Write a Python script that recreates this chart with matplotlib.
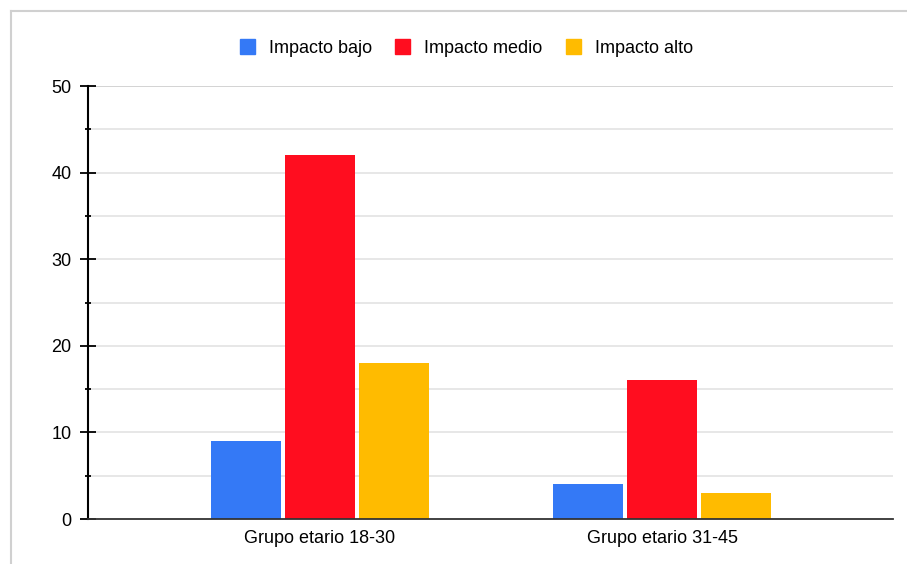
import matplotlib.pyplot as plt
import numpy as np
from matplotlib.lines import Line2D
from matplotlib.patches import Patch

plt.rcParams['font.family'] = ['Liberation Sans', 'DejaVu Sans']

groups = ["Grupo etario 18-30", "Grupo etario 31-45"]
series_names = ["Impacto bajo", "Impacto medio", "Impacto alto"]
bajo = [9, 4]
medio = [42, 16]
alto = [18, 3]
colors = ["#3479f6", "#ff0d1f", "#ffbb00"]

fig = plt.figure(figsize=(9.07, 5.64), dpi=100)
ax = fig.add_axes([88 / 907, 1 - 519 / 564, 805 / 907, 433 / 564])

x = np.arange(len(groups))
width = 0.205
step = 0.216
for i, (vals, c) in enumerate(zip([bajo, medio, alto], colors)):
    ax.bar(x + (i - 1) * step, vals, width, color=c, zorder=3, label=series_names[i])

ax.set_xlim(-0.678, 1.675)
ax.set_ylim(0, 50)
ax.set_yticks(range(0, 51, 10))
ax.set_yticks(range(5, 50, 10), minor=True)
ax.set_xticks(x)
ax.set_xticklabels(groups, fontsize=13)
ax.tick_params(axis='x', length=0, pad=8)
ax.tick_params(axis='y', which='major', direction='inout', length=12, width=1.3, labelsize=13, pad=6)
ax.tick_params(axis='y', which='minor', direction='inout', length=5, width=1.3)

for v in range(5, 51, 5):
    ax.axhline(v, color="#cccccc" if v == 50 else "#e3e3e3", lw=1.2, zorder=1)

for s in ["top", "right"]:
    ax.spines[s].set_visible(False)
ax.spines["left"].set_color("black")
ax.spines["left"].set_linewidth(1.5)
ax.spines["bottom"].set_color("#333333")
ax.spines["bottom"].set_linewidth(1.3)
ax.spines["bottom"].set_zorder(4)

handles = [Patch(facecolor=c, edgecolor=c) for c in colors]
fig.legend(handles, series_names, loc="center", bbox_to_anchor=(0.514, 0.915), ncol=3,
           frameon=False, fontsize=13, handlelength=0.85, handleheight=0.85,
           handletextpad=0.75, columnspacing=1.3)

# thin gray frame along the top and left edges
fig.add_artist(Line2D([11 / 907, 11 / 907], [0, 1 - 11 / 564], transform=fig.transFigure, color="#d0d0d0", lw=1.5))
fig.add_artist(Line2D([11 / 907, 1], [1 - 11 / 564, 1 - 11 / 564], transform=fig.transFigure, color="#d0d0d0", lw=1.5))

fig.savefig("out.png", dpi=100)
